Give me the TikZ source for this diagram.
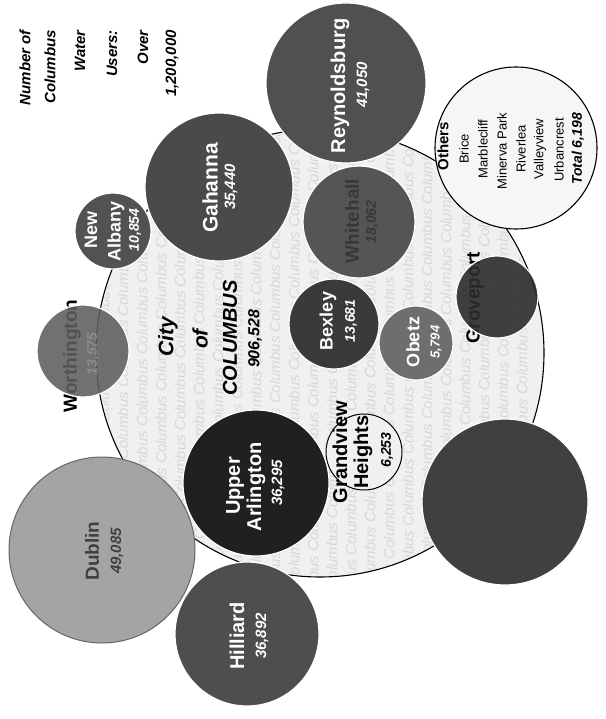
\documentclass[tikz,border=0pt]{standalone}
\usepackage{fontspec}
\setmainfont{Liberation Sans}
\definecolor{cbg}{HTML}{F0F0F0}
\definecolor{cwm}{HTML}{D8D8D8}
\definecolor{reyn}{HTML}{505050}
\definecolor{gah}{HTML}{4A4A4A}
\definecolor{newa}{HTML}{525252}
\definecolor{wort}{HTML}{5E5E5E}
\definecolor{whit}{HTML}{555555}
\definecolor{whtx}{HTML}{383838}
\definecolor{bex}{HTML}{3A3A3A}
\definecolor{obe}{HTML}{6E6E6E}
\definecolor{grov}{HTML}{2C2C2C}
\definecolor{grvc}{HTML}{404040}
\definecolor{uarl}{HTML}{202020}
\definecolor{dubl}{HTML}{A4A4A4}
\definecolor{hill}{HTML}{4E4E4E}
\definecolor{oth}{HTML}{F6F6F6}
\begin{document}
\begin{tikzpicture}[x=1pt,y=-1pt,
  bub/.style={circle,inner sep=0pt,minimum size=#1,draw=white,line width=1.2pt},
  nm/.style={rotate=90,inner sep=0pt,text=white,font=\bfseries\fontsize{#1}{#1}\selectfont},
  nm/.default=20,
  nu/.style={rotate=90,inner sep=0pt,text=white,font=\bfseries\itshape\fontsize{#1}{#1}\selectfont},
  nu/.default=15,
  leg/.style={rotate=90,anchor=east,inner sep=0pt,font=\bfseries\itshape\fontsize{15}{15}\selectfont},
  ot/.style={rotate=90,inner sep=0pt,font=\fontsize{13}{13}\selectfont},
  wm/.style={rotate=90,inner sep=0pt,text=cwm,font=\itshape\fontsize{15}{15}\selectfont}
]
\fill[white] (0,0) rectangle (605,719);
\useasboundingbox (0,0) rectangle (605,719);

% legend
\node[leg] (l1) at (25,30) {Number of};
\node[leg] (l2) at (50,30) {Columbus};
\node[leg] (l3) at (80,30) {Water};
\node[leg] (l4) at (112,30) {Users:};
\node[leg] (l5) at (143,30) {Over};
\node[leg] (l6) at (172,30) {1,200,000};

% City of Columbus
\node[circle,inner sep=0pt,minimum size=448pt,fill=cbg,draw=black,line width=1.1pt] (columbus) at (320,353) {};
\begin{scope}
  \clip (320,353) circle (222pt);
  \foreach \i in {0,...,22}{
    \pgfmathsetmacro\xx{104+19*\i}
    \pgfmathsetmacro\yy{353+mod(37*\i,70)}
    \node[wm] (wm\i) at (\xx,\yy) {Columbus Columbus Columbus Columbus Columbus Columbus Columbus Columbus};
  }
\end{scope}
\node[nm=21,text=black,font=\bfseries\itshape\fontsize{21}{21}\selectfont] (c1) at (168,337) {City};
\node[nm=21,text=black,font=\bfseries\itshape\fontsize{21}{21}\selectfont] (c2) at (200,339) {of};
\node[nm=20,text=black,font=\bfseries\itshape\fontsize{20}{20}\selectfont] (c3) at (230,338) {COLUMBUS};
\node[nu=16,text=black] (c4) at (255,339) {906,528};

% Others
\node[bub=162pt,fill=oth,draw=black,line width=1.1pt] (others) at (516,148) {};
\node[ot,font=\bfseries\fontsize{15}{15}\selectfont] (o1) at (443,146) {Others};
\node[ot] (o2) at (464,149) {Brice};
\node[ot] (o3) at (483,149) {Marblecliff};
\node[ot] (o4) at (502,151) {Minerva Park};
\node[ot] (o5) at (521,149) {Riverlea};
\node[ot] (o6) at (540,149) {Valleyview};
\node[ot] (o7) at (559,150) {Urbancrest};
\node[ot,font=\bfseries\itshape\fontsize{14}{14}\selectfont] (o8) at (578,149) {Total 6,198};

% bubbles
\node[bub=160pt,fill=reyn] (reyn) at (346,83) {};
\node[nm] (reynN) at (340,86) {Reynoldsburg};
\node[nu] (reynV) at (363,85) {41,050};

\node[bub=148pt,fill=gah] (gah) at (219,187) {};
\node[nm=21] (gahN) at (210,188) {Gahanna};
\node[nu] (gahV) at (231,187) {35,440};

\node[bub=76pt,fill=newa] (newa) at (113,231) {};
\node[nm=18] (newaN1) at (91,230) {New};
\node[nm=18] (newaN2) at (116,231) {Albany};
\node[nu=14] (newaV) at (135,230) {10,854};

% Worthington: label under a semi-opaque bubble
\node[nm=19,text=black] (wortN) at (72,356) {Worthington};
\node[bub=92pt,fill=wort,fill opacity=0.88] (wort) at (83,351) {};
\node[nu=14,text=black!45] (wortV) at (93,354) {13,575};

% Whitehall: dark label on dark bubble
\node[bub=112pt,fill=whit] (whit) at (359,222) {};
\node[nm=19,text=whtx] (whitN) at (352,221) {Whitehall};
\node[nu=14,text=whtx] (whitV) at (372,222) {18,062};

\node[bub=90pt,fill=bex] (bex) at (334,324) {};
\node[nm=18] (bexN) at (328,321) {Bexley};
\node[nu=14] (bexV) at (351,321) {13,681};

\node[bub=74pt,fill=obe] (obe) at (416,343) {};
\node[nm=18] (obeN) at (413,342) {Obetz};
\node[nu=13] (obeV) at (436,342) {5,794};

% Groveport: label under a semi-opaque bubble
\node[nm=19,text=black] (grovN) at (475,298) {Groveport};
\node[bub=82pt,fill=grov,fill opacity=0.9] (grov) at (497,297) {};

\node[bub=76pt,fill=cbg,draw=black,line width=1pt] (grand) at (364,452) {};
\node[nm=20,text=black] (grandN1) at (340,452) {Grandview};
\node[nm=20,text=black] (grandN2) at (363,452) {Heights};
\node[nu=14,text=black] (grandV) at (387,450) {6,253};

\node[bub=146pt,fill=uarl] (uarl) at (256,483) {};
\node[nm] (uarlN1) at (235,486) {Upper};
\node[nm] (uarlN2) at (256,487) {Arlington};
\node[nu] (uarlV) at (278,483) {36,295};

\node[bub=186pt,fill=dubl,draw=black!60,line width=1pt] (dubl) at (102,550) {};
\node[nm=19,text=black!75] (dublN) at (92,551) {Dublin};
\node[nu=15,text=black!75] (dublV) at (117,551) {49,085};

\node[bub=144pt,fill=hill] (hill) at (247,634) {};
\node[nm] (hillN) at (237,636) {Hilliard};
\node[nu] (hillV) at (262,636) {36,892};

\node[bub=166pt,fill=grvc] (grvc) at (505,502) {};
\end{tikzpicture}
\end{document}
